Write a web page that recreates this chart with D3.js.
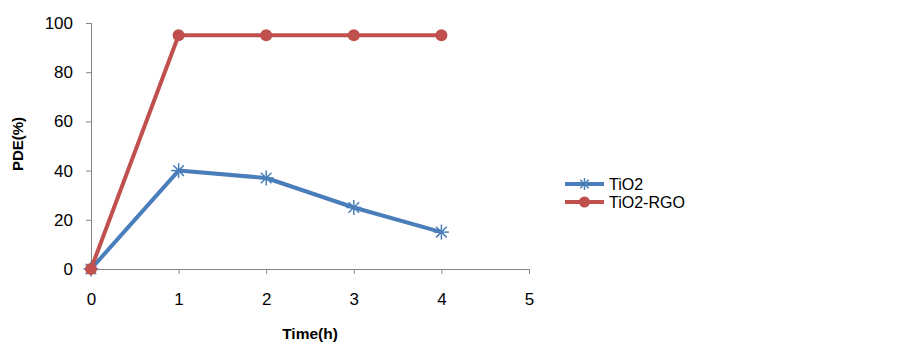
<!DOCTYPE html>
<html>
<head>
<meta charset="utf-8">
<script src="https://cdn.jsdelivr.net/npm/d3@7"></script>
<style>
  body { margin: 0; background: #fff; }
  .axis text { font-family: "Liberation Sans", Arial, sans-serif; font-size: 17px; fill: #000; }
  .axis path, .axis line { stroke: #868686; }
</style>
</head>
<body>
<div class="chart"></div>
<script>
// time (h) vs PDE (%)
const times = [0, 1, 2, 3, 4];
const tio2 = [0, 40, 37, 25, 15];
const tio2Rgo = [0, 95, 95, 95, 95];
const xTicks = [0, 1, 2, 3, 4, 5];
const yTicks = [0, 20, 40, 60, 80, 100];
const seriesNames = ['TiO2', 'TiO2-RGO'];

const width = 903, height = 344;
const plot = {left: 91, right: 529, top: 23, bottom: 269};

const svg = d3.select('.chart').append('svg')
    .attr('width', width)
    .attr('height', height);

const xScale = d3.scaleLinear().domain([0, 5]).range([plot.left, plot.right]);
const yScale = d3.scaleLinear().domain([0, 100]).range([plot.bottom, plot.top]);

const xAxis = d3.axisBottom(xScale).tickValues(xTicks).tickSize(5).tickPadding(19).tickFormat(d3.format('d'));
const yAxis = d3.axisLeft(yScale).tickValues(yTicks).tickSize(5).tickPadding(13).tickFormat(d3.format('d'));

svg.append('g')
    .attr('class', 'axis x-axis')
    .attr('transform', 'translate(0,' + plot.bottom + ')')
    .call(xAxis)
    .call(g => g.select('.domain').attr('d', 'M' + plot.left + ',0.5H' + plot.right));

svg.append('g')
    .attr('class', 'axis y-axis')
    .attr('transform', 'translate(' + plot.left + ',0)')
    .call(yAxis)
    .call(g => g.select('.domain').attr('d', 'M0.5,' + plot.top + 'V' + plot.bottom));

// axis titles
svg.append('text')
    .attr('x', (plot.left + plot.right) / 2)
    .attr('y', 339)
    .attr('text-anchor', 'middle')
    .style('font-family', '"Liberation Sans", Arial, sans-serif')
    .style('font-size', '15.5px')
    .style('font-weight', 'bold')
    .text('Time(h)');

svg.append('text')
    .attr('transform', 'translate(23,144) rotate(-90)')
    .attr('text-anchor', 'middle')
    .style('font-family', '"Liberation Sans", Arial, sans-serif')
    .style('font-size', '15px')
    .style('font-weight', 'bold')
    .text('PDE(%)');

const line = d3.line()
    .x((d, i) => xScale(times[i]))
    .y(d => yScale(d));

const blue = '#4a7ebb', red = '#c0504d';

function star(g, cx, cy, r) {
    for (let a = 0; a < 4; a++) {
        const ang = a * Math.PI / 4;
        g.append('line')
            .attr('x1', cx - r * Math.cos(ang)).attr('y1', cy - r * Math.sin(ang))
            .attr('x2', cx + r * Math.cos(ang)).attr('y2', cy + r * Math.sin(ang))
            .attr('stroke', blue).attr('stroke-width', 1.5);
    }
}

// TiO2
svg.append('path')
    .datum(tio2)
    .attr('d', line)
    .attr('fill', 'none')
    .attr('stroke', blue)
    .attr('stroke-width', 4)
    .attr('stroke-linejoin', 'round');
const stars = svg.append('g');
tio2.forEach((d, i) => star(stars, xScale(times[i]), yScale(d), 7.5));

// TiO2-RGO
svg.append('path')
    .datum(tio2Rgo)
    .attr('d', line)
    .attr('fill', 'none')
    .attr('stroke', red)
    .attr('stroke-width', 4)
    .attr('stroke-linejoin', 'round');
svg.selectAll('.dot')
    .data(tio2Rgo)
    .enter()
    .append('circle')
    .attr('class', 'dot')
    .attr('cx', (d, i) => xScale(times[i]))
    .attr('cy', d => yScale(d))
    .attr('r', 6)
    .attr('fill', red);

// legend
const legend = svg.append('g');
seriesNames.forEach((name, i) => {
    const y = 184 + i * 18;
    const col = i === 0 ? blue : red;
    legend.append('line')
        .attr('x1', 565).attr('x2', 604)
        .attr('y1', y).attr('y2', y)
        .attr('stroke', col).attr('stroke-width', 4);
    if (i === 0) star(legend, 584.5, y, 6);
    else legend.append('circle').attr('cx', 584.5).attr('cy', y).attr('r', 5.5).attr('fill', col);
    legend.append('text')
        .attr('x', 609).attr('y', y + 6)
        .style('font-family', '"Liberation Sans", Arial, sans-serif')
        .style('font-size', '16px')
        .text(name);
});
</script>
</body>
</html>
